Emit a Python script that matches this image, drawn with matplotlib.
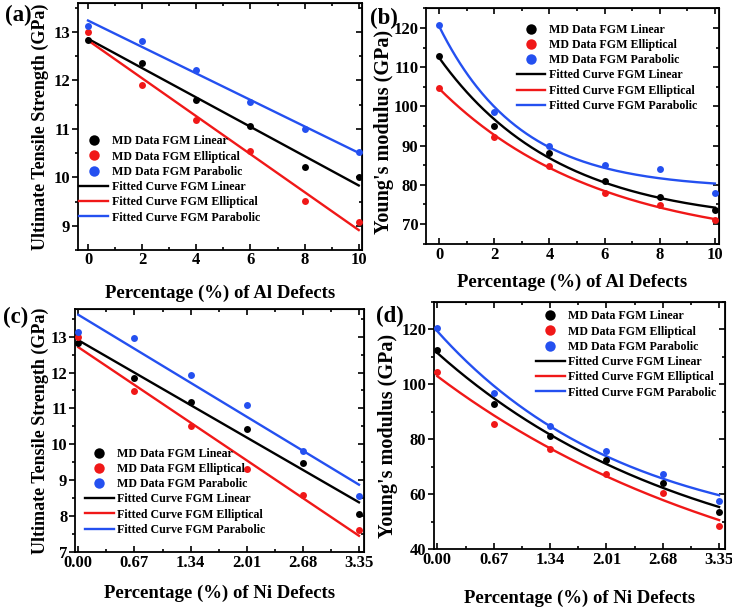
import numpy as np
import matplotlib
matplotlib.use("Agg")
import matplotlib.pyplot as plt
from matplotlib.ticker import MultipleLocator
from matplotlib.lines import Line2D

plt.rcParams["font.family"] = ["Liberation Serif", "DejaVu Serif"]
plt.rcParams["font.weight"] = "bold"

# ---- data ----
al_pct = np.array([0, 2, 4, 6, 8, 10])
ni_pct = np.array([0.0, 0.67, 1.34, 2.01, 2.68, 3.35])

uts_al_linear = [12.84, 12.37, 11.60, 11.05, 10.22, 10.00]
uts_al_ellip = [13.00, 11.90, 11.18, 10.55, 9.52, 9.07]
uts_al_parab = [13.13, 12.81, 12.21, 11.56, 11.00, 10.52]

ym_al_linear = [112.9, 95.0, 88.0, 81.0, 76.8, 73.6]
ym_al_ellip = [104.7, 92.1, 84.9, 78.0, 74.8, 70.9]
ym_al_parab = [120.8, 98.5, 90.0, 85.0, 84.0, 77.8]

uts_ni_linear = [12.83, 11.84, 11.19, 10.43, 9.49, 8.07]
uts_ni_ellip = [12.98, 11.49, 10.50, 9.30, 8.60, 7.60]
uts_ni_parab = [13.12, 12.96, 11.92, 11.09, 9.81, 8.55]

ym_ni_linear = [112.6, 92.7, 81.2, 72.4, 64.2, 53.5]
ym_ni_ellip = [104.5, 85.7, 76.6, 67.5, 60.5, 48.4]
ym_ni_parab = [120.6, 96.7, 84.7, 75.6, 67.5, 57.5]

ni_labels = ["0.00", "0.67", "1.34", "2.01", "2.68", "3.35"]
series_names = ["FGM Linear", "FGM Elliptical", "FGM Parabolic"]
colors = ["black", "#f01818", "#2450f0"]


def lin_fit(x, y):
    p = np.polyfit(x, y, 1)
    return lambda xx: np.polyval(p, xx)


def exp_fit(x, y):
    # y = y0 + A*exp(-x/t), t scanned, y0/A by least squares
    x = np.asarray(x, float)
    y = np.asarray(y, float)
    best = None
    for t in np.linspace(0.2, 60, 3000):
        M = np.column_stack([np.ones_like(x), np.exp(-x / t)])
        coef = np.linalg.lstsq(M, y, rcond=None)[0]
        r = np.sum((M @ coef - y) ** 2)
        if best is None or r < best[0]:
            best = (r, t, coef)
    _, t, (y0, a) = best
    return lambda xx: y0 + a * np.exp(-xx / t)


fig = plt.figure(figsize=(7.32, 6.09), dpi=100)
W, H = 732, 609


def box(l, t, r, b):
    return [l / W, 1 - b / H, (r - l) / W, (b - t) / H]


def setup(ax, xlim, ylim, xmaj, xmin, ymaj, ymin, xticklabels=None, xpad=2.5):
    ax.set_xlim(*xlim)
    ax.set_ylim(*ylim)
    for s in ax.spines.values():
        s.set_linewidth(1.3)
    ax.set_xticks(xmaj)
    if xticklabels is not None:
        ax.set_xticklabels(xticklabels)
    ax.set_yticks(ymaj)
    ax.xaxis.set_minor_locator(MultipleLocator(xmin))
    ax.yaxis.set_minor_locator(MultipleLocator(ymin))
    ax.tick_params(which="both", width=1.2, labelsize=12)
    ax.tick_params(axis="x", which="both", direction="in", pad=xpad)
    ax.tick_params(axis="y", which="both", direction="out", pad=1.5)
    ax.tick_params(which="major", length=4)
    ax.tick_params(which="minor", length=2.5)
    for lab in ax.get_xticklabels() + ax.get_yticklabels():
        lab.set_fontweight("bold")
    top = ax.secondary_xaxis("top")
    top.set_xticks(xmaj)
    top.xaxis.set_minor_locator(MultipleLocator(xmin))
    top.tick_params(which="both", direction="in", labeltop=False, width=1.2)
    top.tick_params(which="major", length=4)
    top.tick_params(which="minor", length=2.5)
    right = ax.secondary_yaxis("right")
    right.set_yticks(ymaj)
    right.yaxis.set_minor_locator(MultipleLocator(ymin))
    right.tick_params(which="both", direction="in", labelright=False, width=1.2)
    right.tick_params(which="major", length=4)
    right.tick_params(which="minor", length=2.5)


def draw(ax, x, ys, fitter, xfit):
    handles_pts, handles_ln = [], []
    for y, c, name in zip(ys, colors, series_names):
        ax.plot(x, y, "o", color=c, ms=5, mec="none", zorder=3)
        f = fitter(x, y)
        ax.plot(xfit, f(xfit), "-", color=c, lw=1.7, zorder=2)
        handles_pts.append(Line2D([], [], ls="none", marker="o", color=c,
                                  ms=7.5, mec="none", label="MD Data " + name))
        handles_ln.append(Line2D([], [], color=c, lw=1.7,
                                 label="Fitted Curve " + name))
    return handles_pts + handles_ln


def add_legend(ax, handles, anchor):
    ax.legend(handles=handles, loc="upper left", bbox_to_anchor=anchor,
              frameon=False, borderpad=0, borderaxespad=0,
              prop={"family": "Liberation Serif", "weight": "bold", "size": 8.6},
              handlelength=2.4, handletextpad=0.3, labelspacing=0.27)


xlab_kw = dict(fontsize=13.5, fontweight="bold")
uts_kw = dict(fontsize=13, fontweight="bold")
ym_kw = dict(fontsize=14.5, fontweight="bold")
panel_kw = dict(fontsize=16.5, fontweight="bold", va="top")

# (a)
ax = fig.add_axes(box(78, 3, 362, 250))
h = draw(ax, al_pct, [uts_al_linear, uts_al_ellip, uts_al_parab], lin_fit,
         np.linspace(0, 10, 50))
setup(ax, (-0.37, 10.12), (8.5, 13.6), [0, 2, 4, 6, 8, 10], 1,
      [9, 10, 11, 12, 13], 0.5, xpad=1.5)
ax.set_xlabel("Percentage (%) of Al Defects", labelpad=12, **xlab_kw)
ax.set_ylabel("Ultimate Tensile Strength (GPa)", labelpad=3, **uts_kw)
add_legend(ax, h, (0.005, 0.464))
fig.text(5 / W, 1 - 5 / H, "(a)", **panel_kw)

# (b)
ax = fig.add_axes(box(426, 8, 719, 244))
h = draw(ax, al_pct, [ym_al_linear, ym_al_ellip, ym_al_parab], exp_fit,
         np.linspace(0, 10, 200))
setup(ax, (-0.48, 10.15), (64.9, 125.1), [0, 2, 4, 6, 8, 10], 1,
      [70, 80, 90, 100, 110, 120], 5)
ax.set_xlabel("Percentage (%) of Al Defects", labelpad=7.5, **xlab_kw)
ax.set_ylabel("Young's modulus (GPa)", **ym_kw)
ax.yaxis.set_label_coords(-0.108, 0.475)
add_legend(ax, h, (0.31, 0.933))
fig.text(370 / W, 1 - 8 / H, "(b)", **panel_kw)

# (c)
ax = fig.add_axes(box(75, 309, 364, 552))
h = draw(ax, ni_pct, [uts_ni_linear, uts_ni_ellip, uts_ni_parab], lin_fit,
         np.linspace(0, 3.35, 50))
setup(ax, (-0.04, 3.41), (7, 13.77), ni_pct, 0.335,
      [7, 8, 9, 10, 11, 12, 13], 0.5, ni_labels)
ax.set_xlabel("Percentage (%) of Ni Defects", labelpad=9.5, **xlab_kw)
ax.set_ylabel("Ultimate Tensile Strength (GPa)", labelpad=1, **uts_kw)
add_legend(ax, h, (0.035, 0.429))
fig.text(3 / W, 1 - 307 / H, "(c)", **panel_kw)

# (d)
ax = fig.add_axes(box(434, 302, 725, 549))
h = draw(ax, ni_pct, [ym_ni_linear, ym_ni_ellip, ym_ni_parab], exp_fit,
         np.linspace(0, 3.35, 200))
setup(ax, (-0.04, 3.42), (40, 130), ni_pct, 0.335,
      [40, 60, 80, 100, 120], 10, ni_labels)
ax.set_xlabel("Percentage (%) of Ni Defects", labelpad=15, **xlab_kw)
ax.set_ylabel("Young's modulus (GPa)", **ym_kw)
ax.yaxis.set_label_coords(-0.123, 0.457)
add_legend(ax, h, (0.35, 0.966))
fig.text(376 / W, 1 - 306 / H, "(d)", **panel_kw)

fig.savefig("out.png", dpi=100)
